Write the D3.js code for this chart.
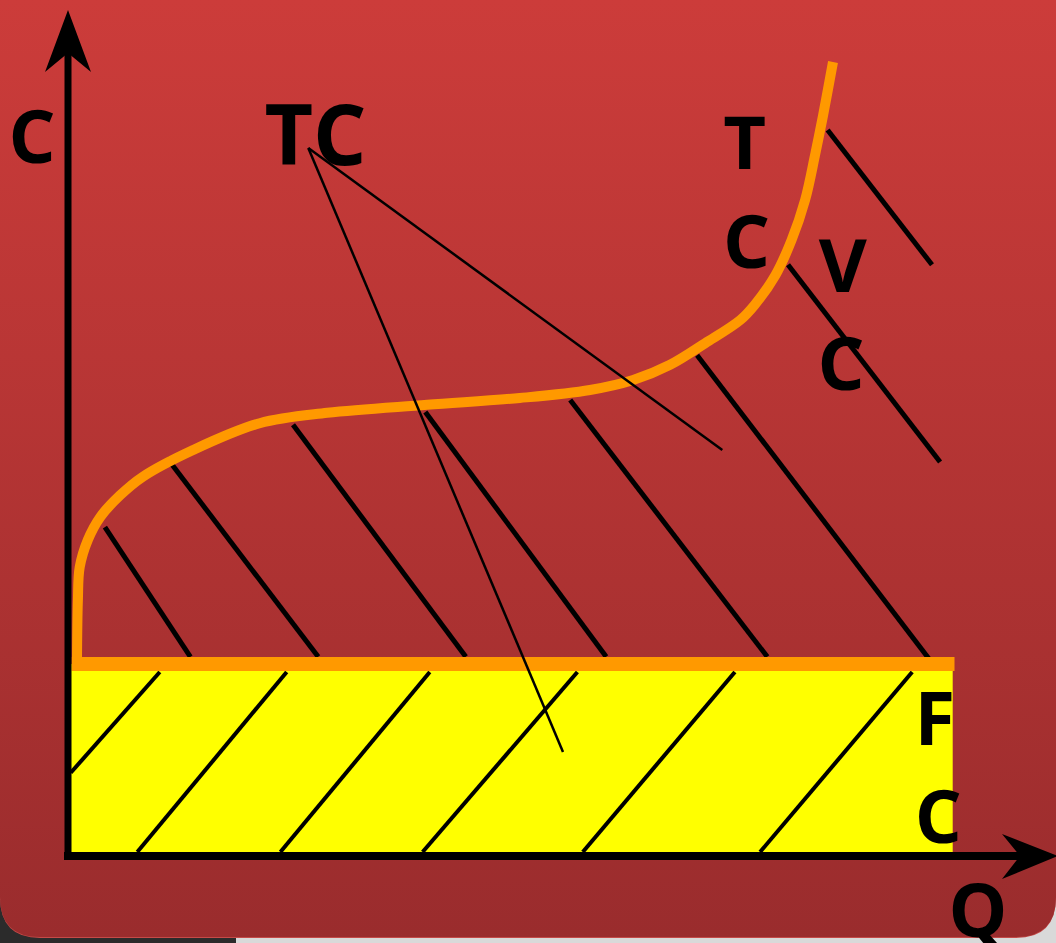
<!DOCTYPE html>
<html>
<head>
<meta charset="utf-8">
<script src="https://cdn.jsdelivr.net/npm/d3@7"></script>
<style>
  html, body { margin: 0; padding: 0; background: #d9d9d9; overflow: hidden; }
  svg { display: block; }
  text { font-family: "Open Sans", "DejaVu Sans", sans-serif; font-weight: bold; fill: #000; }
</style>
</head>
<body>
<svg width="1056" height="943"></svg>
<script>
// total cost curve (Q, C)
var tcCurve = [
  [1.0, 24.5], [1.1, 32], [1.3, 36.1], [2.2, 39.5], [3.6, 42.4], [5.8, 45.1],
  [8.3, 47.4], [13.9, 50.75], [21.3, 54.1], [28.8, 55.4], [39.9, 56.4],
  [50.2, 57.25], [58, 58.25], [62.8, 59.5], [66.9, 61.4], [70.8, 64.1],
  [74.7, 67], [76.3, 68.9], [78.6, 72.6], [80.4, 77], [81.9, 82],
  [83, 87.6], [83.9, 92.6], [85, 99.25]
];

// fixed cost level and extent
var fcLevel = 24;
var fcQmax = 98.3;

// hatching over variable cost area: [q1, c1, q2, c2]
var vcHatch = [
  [4.1, 41.1, 13.6, 24.9],
  [11, 49.75, 27.8, 24.9],
  [25, 53.9, 44.2, 24.9],
  [39.7, 55.5, 59.8, 24.9],
  [55.8, 57, 77.7, 24.9],
  [69.9, 62.6, 95.7, 24.6],
  [80, 73.9, 96.9, 49.25],
  [84.4, 90.75, 96, 73.9]
];

// hatching over fixed cost area
var fcHatch = [
  [0.3, 10.4, 10.2, 23],
  [7.7, 0.5, 24.3, 23],
  [23.6, 0.5, 40.2, 23],
  [39.4, 0.5, 56.6, 23],
  [57.2, 0.5, 74.1, 23],
  [76.9, 0.5, 93.8, 23]
];

// pointer lines from the TC label
var tcPointer = [
  [26.7, 88.5, 72.7, 50.75],
  [26.7, 88.5, 55, 13]
];

// labels: text, Q, C, size
var labels = [
  ["C", -4, 86.6, 74],
  ["TC", 27.5, 86.4, 84],
  ["T", 75.2, 85.9, 74],
  ["C", 75.4, 73.5, 74],
  ["V", 86.1, 70.5, 74],
  ["C", 85.9, 58.25, 74],
  ["F", 96.3, 13.9, 74],
  ["C", 96.7, 1.6, 74],
  ["Q", 101.1, -10.1, 74]
];

var svg = d3.select('svg');
var svgWidth = +svg.attr('width');
var svgHeight = +svg.attr('height');

var x = d3.scaleLinear().domain([0, 100]).range([68, 968]);
var y = d3.scaleLinear().domain([0, 100]).range([856, 56]);

// background panel
var defs = svg.append('defs');
var grad = defs.append('linearGradient')
  .attr('id', 'bg').attr('x1', 0).attr('y1', 0).attr('x2', 0).attr('y2', 1);
grad.append('stop').attr('offset', '0%').attr('stop-color', '#cc3c3a');
grad.append('stop').attr('offset', '100%').attr('stop-color', '#9a2c2d');

svg.append('rect')
  .attr('x', 0).attr('y', 900).attr('width', 236).attr('height', 43)
  .attr('fill', '#2b2b2b');

var panelH = 937, r = 40;
// rim along the rounded bottom edge
svg.append('path')
  .attr('d', 'M0,' + (panelH - r) + ' Q0,' + (panelH + 1) + ' ' + r + ',' + (panelH + 1) +
    ' H' + (svgWidth - r) + ' Q' + svgWidth + ',' + (panelH + 1) + ' ' + svgWidth + ',' + (panelH - r) + ' Z')
  .attr('fill', '#c54a48');
svg.append('path')
  .attr('d', 'M0,0 H' + svgWidth + ' V' + (panelH - r) +
    ' Q' + svgWidth + ',' + panelH + ' ' + (svgWidth - r) + ',' + panelH +
    ' H' + r + ' Q0,' + panelH + ' 0,' + (panelH - r) + ' Z')
  .attr('fill', 'url(#bg)');

var chartG = svg.append('g');

// fixed cost block
chartG.append('rect')
  .attr('x', x(0)).attr('y', y(fcLevel))
  .attr('width', x(fcQmax) - x(0))
  .attr('height', y(0) - y(fcLevel))
  .attr('fill', '#ffff00');

var segLine = function(sel, data, w) {
  sel.selectAll(null)
    .data(data)
    .enter().append('line')
    .attr('x1', function(d) { return x(d[0]); })
    .attr('y1', function(d) { return y(d[1]); })
    .attr('x2', function(d) { return x(d[2]); })
    .attr('y2', function(d) { return y(d[3]); })
    .attr('stroke', '#000')
    .attr('stroke-width', w);
};

segLine(chartG.append('g'), fcHatch, 4);
segLine(chartG.append('g'), vcHatch, 5);

// fixed cost line
chartG.append('line')
  .attr('x1', x(0.4)).attr('x2', x(fcQmax + 0.2))
  .attr('y1', y(fcLevel)).attr('y2', y(fcLevel))
  .attr('stroke', '#ff9900')
  .attr('stroke-width', 14);

// total cost curve
var line = d3.line()
  .x(function(d) { return x(d[0]); })
  .y(function(d) { return y(d[1]); })
  .curve(d3.curveCatmullRom.alpha(0.5));

chartG.append('path')
  .datum(tcCurve)
  .attr('d', line)
  .attr('fill', 'none')
  .attr('stroke', '#ff9900')
  .attr('stroke-width', 10);

segLine(chartG.append('g'), tcPointer, 2.5);

// axes with arrowheads
var axisG = svg.append('g');
axisG.append('line')
  .attr('x1', x(0)).attr('y1', y(0) + 4)
  .attr('x2', x(0)).attr('y2', 40)
  .attr('stroke', '#000').attr('stroke-width', 7);
axisG.append('line')
  .attr('x1', x(0) - 4).attr('y1', y(0))
  .attr('x2', 1035).attr('y2', y(0))
  .attr('stroke', '#000').attr('stroke-width', 8);
axisG.append('path')
  .attr('d', 'M' + x(0) + ',10 L' + (x(0) + 23) + ',72 L' + x(0) + ',53 L' + (x(0) - 23) + ',72 Z')
  .attr('fill', '#000');
axisG.append('path')
  .attr('d', 'M1058,' + y(0) + ' L1002,' + (y(0) - 22) + ' L1020,' + y(0) + ' L1002,' + (y(0) + 23) + ' Z')
  .attr('fill', '#000');

// labels
svg.append('g').selectAll('text')
  .data(labels)
  .enter().append('text')
  .attr('x', function(d) { return x(d[1]); })
  .attr('y', function(d) { return y(d[2]); })
  .attr('text-anchor', 'middle')
  .style('font-size', function(d) { return d[3] + 'px'; })
  .text(function(d) { return d[0]; });
</script>
</body>
</html>
